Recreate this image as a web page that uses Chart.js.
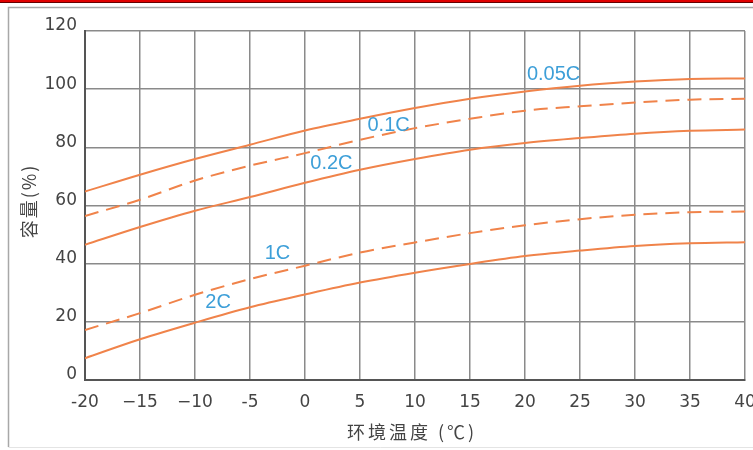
<!DOCTYPE html>
<html><head><meta charset="utf-8">
<script src="https://cdn.jsdelivr.net/npm/chart.js@4/dist/chart.umd.min.js"></script>
<style>html,body{margin:0;padding:0;background:#fff;}#wrap{width:753px;height:450px;position:relative;}</style>
</head><body><div id="wrap"><canvas id="c"></canvas></div>
<script>
const temps = [-20,-15,-10,-5,0,5,10,15,20,25,30,35,40];
const cap005 = [64.8,70.6,76.0,80.9,85.8,89.8,93.5,96.7,99.2,101.2,102.6,103.5,103.7];
const cap01 = [56.4,62.0,68.6,73.7,78.0,82.6,86.6,89.8,92.6,94.1,95.4,96.4,96.7];
const cap02 = [46.5,52.6,58.2,62.9,67.8,72.3,76.0,79.2,81.5,83.2,84.7,85.7,86.1];
const cap1 = [17.2,23.0,29.3,34.7,39.3,43.8,47.3,50.5,53.2,55.3,56.8,57.7,57.9];
const cap2 = [7.5,14.0,19.7,25.0,29.4,33.5,36.9,39.9,42.6,44.5,46.1,47.0,47.4];
const seriesNames = ['0.05C','0.1C','0.2C','1C','2C'];
const seriesDashed = [false,true,false,true,false];
const labelX = [22.6,7.6,2.4,-2.5,-7.9];
const labelY = [105,87.4,74.3,43.4,26.8];
const xTickLabels = ['-20','−15','−10','-5','0','5','10','15','20','25','30','35','40'];
const yTickLabels = ['0','20','40','60','80','100','120'];
const xTitle = '环境温度 (℃)';
const yTitle = '容量(%)';

const allSeries = [cap005,cap01,cap02,cap1,cap2];
const ORANGE = '#f0834a';
const BLUE = '#3d9fd8';

const datasets = allSeries.map((vals,i)=>({
  label: seriesNames[i],
  data: temps.map((t,j)=>({x:t,y:vals[j]})),
  borderColor: ORANGE,
  borderWidth: 2,
  borderDash: seriesDashed[i] ? [14,8] : [],
  pointRadius: 0,
  fill: false,
  cubicInterpolationMode: 'monotone',
  tension: 0.4
}));

const decor = {
  id:'decor',
  beforeDraw(chart){
    const ctx = chart.ctx;
    ctx.save();
    ctx.fillStyle = '#fff';
    ctx.fillRect(0,0,chart.width,chart.height);
    ctx.fillStyle = '#e00000';
    ctx.fillRect(0,0,chart.width,2);
    ctx.fillStyle = '#600';
    ctx.fillRect(0,2,chart.width,1);
    ctx.strokeStyle = '#a8a8a8';
    ctx.lineWidth = 1.5;
    ctx.beginPath();
    ctx.moveTo(chart.width,7.5); ctx.lineTo(8.5,7.5); ctx.lineTo(8.5,447);
    ctx.stroke();
    ctx.strokeStyle = '#e4e4e4';
    ctx.lineWidth = 1;
    ctx.beginPath();
    ctx.moveTo(8.5,447.5); ctx.lineTo(chart.width,447.5);
    ctx.stroke();
    ctx.restore();
  },
  afterDraw(chart){
    const ctx = chart.ctx;
    const xs = chart.scales.x, ys = chart.scales.y;
    ctx.save();
    ctx.fillStyle = BLUE;
    ctx.font = '20px "Liberation Sans", Arial, sans-serif';
    ctx.textAlign = 'center';
    ctx.textBaseline = 'middle';
    seriesNames.forEach((n,i)=>{
      ctx.fillText(n, xs.getPixelForValue(labelX[i]), ys.getPixelForValue(labelY[i]));
    });
    ctx.fillStyle = '#444';
    ctx.font = '18px "Noto Sans CJK SC", sans-serif';
    try { ctx.letterSpacing = '3px'; } catch(e){}
    ctx.fillText(xTitle, 412, 432);
    ctx.translate(29, 201);
    ctx.rotate(-Math.PI/2);
    ctx.font = '18px "Noto Sans CJK SC", sans-serif';
    try { ctx.letterSpacing = '2px'; } catch(e){}
    ctx.fillText(yTitle, 0, 0);
    ctx.restore();
  }
};

new Chart(document.getElementById('c'), {
  type: 'line',
  data: { datasets },
  options: {
    responsive: true,
    maintainAspectRatio: false,
    animation: false,
    devicePixelRatio: 1,
    layout: { padding: { top: 31, right: 8, left: 0, bottom: 0 } },
    plugins: { legend: { display: false }, tooltip: { enabled: false } },
    scales: {
      x: {
        type: 'linear', min: -20, max: 40,
        afterFit(s){ s.height = 70; s.paddingLeft = 0; s.paddingRight = 0; },
        ticks: {
          stepSize: 5, padding: 12, color: '#444', maxRotation: 0, autoSkip: false,
          font: { family: '"DejaVu Sans", sans-serif', size: 17 },
          callback: (v, i) => xTickLabels[i]
        },
        grid: { color: '#8a8a8a', lineWidth: 1.5, drawTicks: false },
        border: { display: true, color: '#555', width: 2 }
      },
      y: {
        min: 0, max: 120,
        afterFit(s){ s.width = 85; s.paddingTop = 0; s.paddingBottom = 0; },
        ticks: {
          stepSize: 20, padding: 8, color: '#444', labelOffset: -5,
          font: { family: '"DejaVu Sans", sans-serif', size: 17 },
          callback: (v, i) => yTickLabels[i]
        },
        grid: { color: '#8a8a8a', lineWidth: 1.5, drawTicks: false },
        border: { display: true, color: '#555', width: 2 }
      }
    }
  },
  plugins: [decor]
});
</script></body></html>
